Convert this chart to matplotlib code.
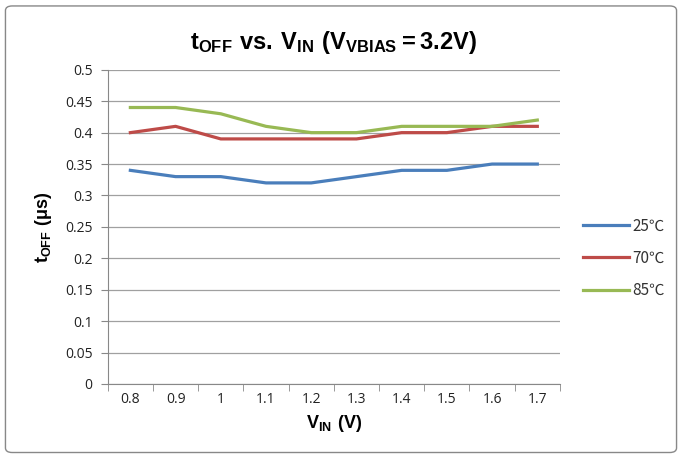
import matplotlib.pyplot as plt
from matplotlib.patches import FancyBboxPatch

vin = ['0.8', '0.9', '1', '1.1', '1.2', '1.3', '1.4', '1.5', '1.6', '1.7']
t25 = [0.34, 0.33, 0.33, 0.32, 0.32, 0.33, 0.34, 0.34, 0.35, 0.35]
t70 = [0.40, 0.41, 0.39, 0.39, 0.39, 0.39, 0.40, 0.40, 0.41, 0.41]
t85 = [0.44, 0.44, 0.43, 0.41, 0.40, 0.40, 0.41, 0.41, 0.41, 0.42]
labels = ['25℃', '70℃', '85℃']
colors = ['#4a7ebb', '#be4b48', '#98b954']

plt.rcParams['mathtext.fontset'] = 'custom'
plt.rcParams['mathtext.bf'] = 'Liberation Sans:bold'
plt.rcParams['mathtext.rm'] = 'Liberation Sans'

fig = plt.figure(figsize=(6.82, 4.58), dpi=100)
fig.patches.append(FancyBboxPatch((0.008, 0.012), 0.984, 0.975, boxstyle='round,pad=0,rounding_size=0.01',
                                  transform=fig.transFigure, fill=False, edgecolor='#888888', linewidth=1))
ax = fig.add_axes([0.158, 0.1616, 0.663, 0.686])

x = range(len(vin))
for ys, lab, c in zip([t25, t70, t85], labels, colors):
    ax.plot(x, ys, color=c, linewidth=2.3, label=lab)

ax.set_xlim(-0.5, len(vin) - 0.5)
ax.set_ylim(0, 0.5)
ax.set_yticks([i * 0.05 for i in range(11)])
ax.set_yticklabels(['0', '0.05', '0.1', '0.15', '0.2', '0.25', '0.3', '0.35', '0.4', '0.45', '0.5'])
ax.set_xticks(list(x))
ax.set_xticklabels(vin)
ax.set_xticks([i - 0.5 for i in range(len(vin) + 1)], minor=True)
ax.tick_params(axis='x', which='major', length=0, pad=6)
ax.tick_params(axis='x', which='minor', length=5, color='#888888')
ax.tick_params(axis='y', length=5, color='#888888', pad=6)
ax.tick_params(labelsize=10, labelcolor='#222222')
for t in ax.get_xticklabels() + ax.get_yticklabels():
    t.set_fontfamily('Open Sans')

ax.grid(axis='y', color='#a0a0a0', linewidth=0.9)
ax.set_axisbelow(True)
for s in ['top', 'right']:
    ax.spines[s].set_visible(False)
for s in ['left', 'bottom']:
    ax.spines[s].set_color('#888888')

ax.set_title(r'$\mathbf{t_{OFF}\ vs.\,V_{IN}\ (V_{VBIAS} = 3.2V)}$', fontsize=17, pad=15)
ax.set_xlabel(r'$\mathbf{V_{IN}\ (V)}$', fontsize=13, labelpad=4)
ax.set_ylabel(r'$\mathbf{t_{OFF}\ (\mu s)}$', fontsize=13, labelpad=8)

leg = ax.legend(loc='center left', bbox_to_anchor=(1.02, 0.40), frameon=False,
                handlelength=3.0, handletextpad=0.25, labelspacing=1.0,
                prop={'family': ['Noto Sans CJK SC', 'DejaVu Sans'], 'size': 11})
for t in leg.get_texts():
    t.set_color('#333333')

fig.savefig('out.png', dpi=100)
